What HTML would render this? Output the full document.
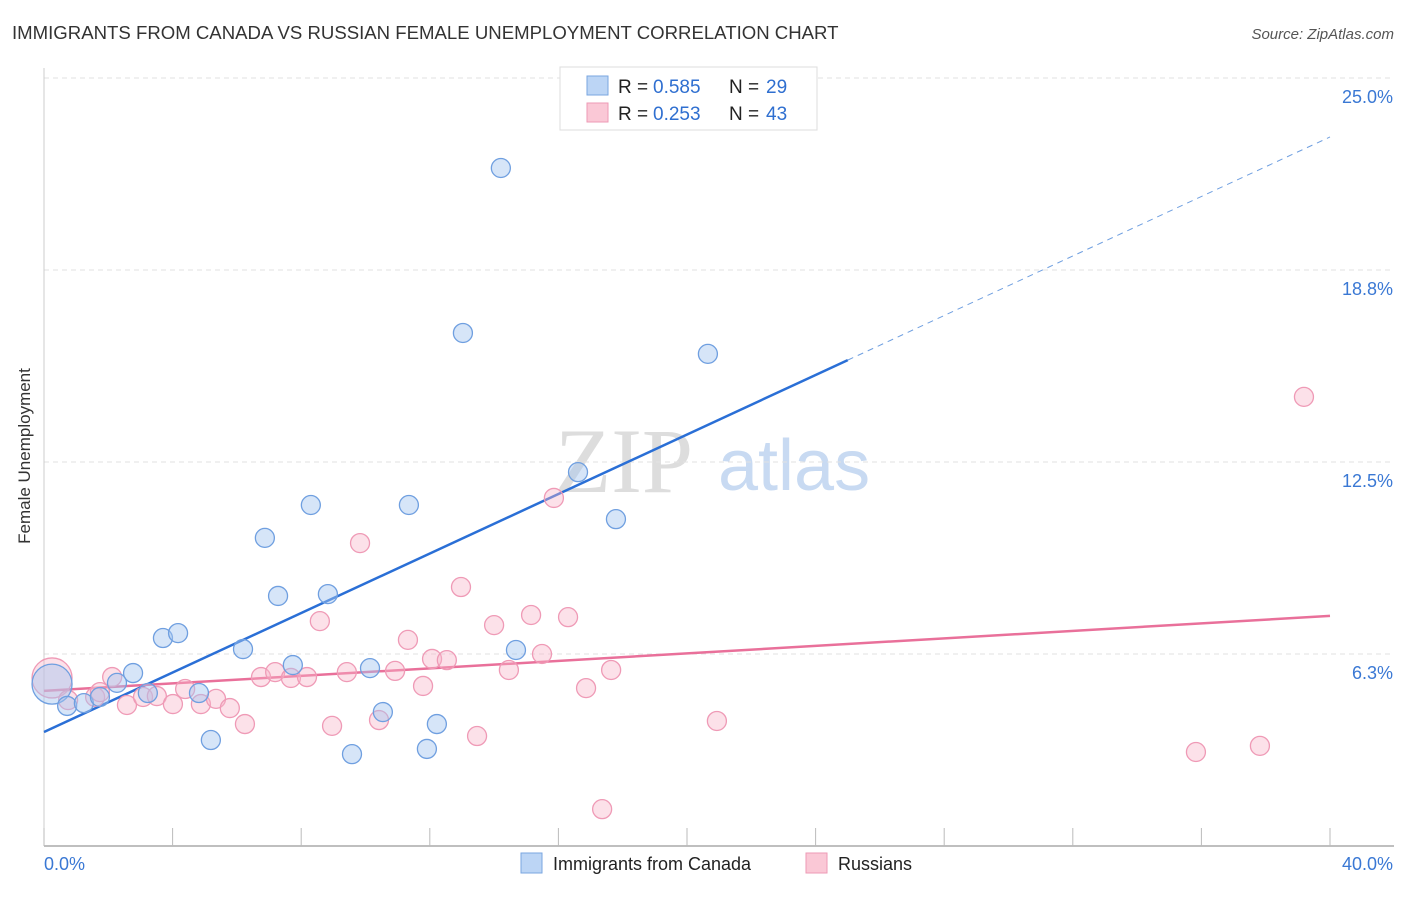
<!DOCTYPE html>
<html><head><meta charset="utf-8"><style>
body{margin:0;background:#fff;font-family:"Liberation Sans",sans-serif;}
</style></head><body>
<svg id="chart" width="1406" height="892" xmlns="http://www.w3.org/2000/svg">
<text x="12" y="39" font-size="18.6" fill="#333">IMMIGRANTS FROM CANADA VS RUSSIAN FEMALE UNEMPLOYMENT CORRELATION CHART</text>
<text x="1394" y="39" font-size="15" fill="#555" font-style="italic" text-anchor="end">Source: ZipAtlas.com</text>
<text x="30" y="456" font-size="17" fill="#333" text-anchor="middle" transform="rotate(-90 30 456)">Female Unemployment</text>
<g>
<text x="555" y="492" font-size="92" font-family="Liberation Serif,serif" fill="#ddd">ZIP</text>
<text x="718" y="490" font-size="72" fill="#c8daf2">atlas</text>
</g>
<g id="grid"></g>
<g id="axes"></g>
<g id="lines"></g>
<g id="pts"></g>
<g>
<rect x="560" y="67" width="257" height="63" fill="#fff" stroke="#ddd"/>
<rect x="587" y="76" width="21" height="19" fill="#bcd5f5" stroke="#7aa6e0"/>
<rect x="587" y="103" width="21" height="19" fill="#fac8d6" stroke="#ee9ab5"/>
<text x="618" y="93" font-size="19" fill="#222">R =</text>
<text x="653" y="93" font-size="19" fill="#2f6fd0">0.585</text>
<text x="729" y="93" font-size="19" fill="#222">N =</text>
<text x="766" y="93" font-size="19" fill="#2f6fd0">29</text>
<text x="618" y="120" font-size="19" fill="#222">R =</text>
<text x="653" y="120" font-size="19" fill="#2f6fd0">0.253</text>
<text x="729" y="120" font-size="19" fill="#222">N =</text>
<text x="766" y="120" font-size="19" fill="#2f6fd0">43</text>
</g>
<g>
<rect x="521" y="853" width="21" height="20" fill="#bcd5f5" stroke="#7aa6e0"/>
<text x="553" y="870" font-size="18" fill="#222">Immigrants from Canada</text>
<rect x="806" y="853" width="21" height="20" fill="#fac8d6" stroke="#ee9ab5"/>
<text x="838" y="870" font-size="18" fill="#222">Russians</text>
</g>
</svg>
<script>
const yTicks=[6.3,12.5,18.8,25.0];
const yTickVals=[6.25,12.5,18.75,25];
const xLabels=["0.0%","40.0%"];
const blueX=[0.25,0.72,1.24,1.74,2.27,2.77,3.23,3.70,4.17,4.82,5.19,6.19,6.87,7.28,7.74,8.30,8.83,9.58,10.14,10.54,11.35,11.91,12.22,13.03,14.21,14.68,16.61,17.79,20.65];
const blueY=[5.27,4.56,4.65,4.85,5.31,5.63,4.98,6.77,6.93,4.98,3.45,6.41,10.03,8.14,5.89,11.10,8.20,2.99,5.79,4.36,11.10,3.16,3.97,16.70,22.07,6.38,12.17,10.64,16.02];
const pinkX=[0.25,0.75,1.59,1.74,2.12,2.58,3.08,3.51,4.01,4.39,4.88,5.35,5.78,6.25,6.75,7.19,7.68,8.18,8.58,8.96,9.42,9.83,10.42,10.92,11.32,11.79,12.07,12.53,12.97,13.47,14.00,14.46,15.15,15.49,15.86,16.30,16.86,17.36,17.64,20.93,35.83,37.82,39.19];
const pinkY=[5.47,4.75,4.85,5.01,5.50,4.59,4.85,4.88,4.62,5.11,4.62,4.79,4.49,3.97,5.50,5.66,5.47,5.50,7.32,3.91,5.66,9.86,4.10,5.70,6.71,5.21,6.09,6.05,8.43,3.58,7.19,5.73,7.52,6.25,11.33,7.45,5.14,1.20,5.73,4.07,3.06,3.26,14.62];
const blueLine=[3.71,23.08];
const blueSolidEnd=25;
const pinkLine=[5.05,7.49];
const NS="http://www.w3.org/2000/svg";
const X=v=>44+v*32.15, Y=v=>846-v*30.72;
function mk(t,a,p){const e=document.createElementNS(NS,t);for(const k in a)e.setAttribute(k,a[k]);p.appendChild(e);return e;}
const grid=document.getElementById('grid'),axes=document.getElementById('axes'),lines=document.getElementById('lines'),pts=document.getElementById('pts');
yTickVals.forEach((v,i)=>{
 const g=mk('line',{x1:44,x2:1394,y1:Y(v),y2:Y(v),stroke:'#e2e2e2','stroke-dasharray':'5,4'},grid);
 
 
 const t=mk('text',{x:1393,y:Y(v)+25,'font-size':18,fill:'#3a78d4','text-anchor':'end'},axes);
 t.textContent=yTicks[i].toFixed(1)+'%';
 
 
});
const ax=mk('line',{x1:44,x2:1394,y1:846,y2:846,stroke:'#aaa','stroke-width':1.5},axes);


const ay=mk('line',{x1:44,x2:44,y1:68,y2:846,stroke:'#ccc'},axes);


for(let i=0;i<=10;i++){const tk=mk('line',{x1:X(i*4),x2:X(i*4),y1:828,y2:846,stroke:'#bbb'},axes);
 
 }
const l0=mk('text',{x:44,y:870,'font-size':18,fill:'#3a78d4'},axes);l0.textContent=xLabels[0];


const l1=mk('text',{x:1393,y:870,'font-size':18,fill:'#3a78d4','text-anchor':'end'},axes);l1.textContent=xLabels[1];


const by=x=>blueLine[0]+(blueLine[1]-blueLine[0])*x/40;
function dot(x,y,r,f,s,nm){const c=mk('circle',{cx:X(x),cy:Y(y),r:r,fill:f,stroke:s,'stroke-width':1.3},pts);
 
 }
pinkX.forEach((x,i)=>dot(x,pinkY[i],i==0?20:9.5,'rgba(248,180,200,0.4)','#ef9ab6','russians-point'));
blueX.forEach((x,i)=>dot(x,blueY[i],i==0?20:9.5,'rgba(165,198,240,0.45)','#6f9fe0','canada-point'));
const b1=mk('line',{x1:X(0),y1:Y(by(0)),x2:X(blueSolidEnd),y2:Y(by(blueSolidEnd)),stroke:'#2a6fd6','stroke-width':2.5},lines);


const b2=mk('line',{x1:X(blueSolidEnd),y1:Y(by(blueSolidEnd)),x2:X(40),y2:Y(by(40)),stroke:'#6f9fe0','stroke-width':1,'stroke-dasharray':'6,5'},lines);


const p1=mk('line',{x1:X(0),y1:Y(pinkLine[0]),x2:X(40),y2:Y(pinkLine[1]),stroke:'#e9709a','stroke-width':2.5},lines);


</script>
</body></html>
